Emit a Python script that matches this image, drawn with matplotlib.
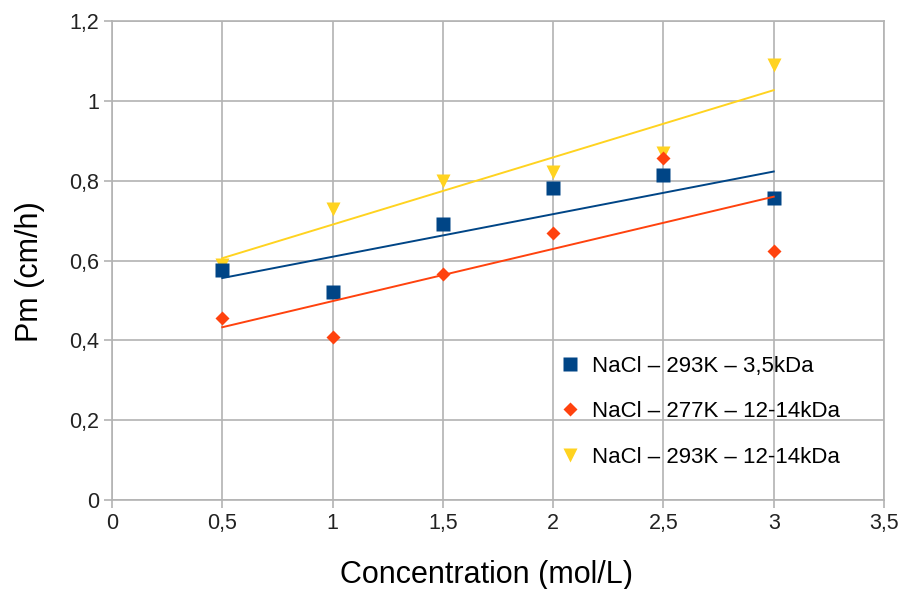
import numpy as np
import matplotlib
matplotlib.use("Agg")
import matplotlib.pyplot as plt
from matplotlib.ticker import FuncFormatter

plt.rcParams["font.family"] = ["Liberation Sans", "DejaVu Sans"]

conc = [0.5, 1.0, 1.5, 2.0, 2.5, 3.0]
pm_293_35 = [0.576, 0.521, 0.691, 0.781, 0.814, 0.756]
pm_277_1214 = [0.456, 0.408, 0.566, 0.669, 0.857, 0.624]
pm_293_1214 = [0.590, 0.729, 0.799, 0.822, 0.869, 1.091]

labels = ["NaCl – 293K – 3,5kDa", "NaCl – 277K – 12-14kDa", "NaCl – 293K – 12-14kDa"]
colors = ["#004586", "#ff420e", "#ffd320"]
markers = ["s", "D", "v"]
msizes = [9.5, 7, 10.5]
zorders = [5, 4, 3]

GRID = "#b3b3b3"

fig = plt.figure(figsize=(9.03, 5.89), dpi=100)
ax = fig.add_axes([0.124, 0.151, 0.855, 0.813])

x = np.array(conc)
series = [pm_293_35, pm_277_1214, pm_293_1214]
for ys, c, m, ms, lab, z in zip(series, colors, markers, msizes, labels, zorders):
    ax.plot(conc, ys, ls="none", marker=m, ms=ms, color=c, mec="none", label=lab, zorder=z)

# linear trend lines drawn on top of the markers
for ys, c in zip(series, colors):
    k, b = np.polyfit(x, ys, 1)
    xx = np.array([x.min(), x.max()])
    ax.plot(xx, k * xx + b, color=c, lw=1.4, zorder=6)

ax.set_xlim(0, 3.5)
ax.set_ylim(0, 1.2)
ax.set_xticks(np.arange(0, 3.51, 0.5))
ax.set_yticks(np.arange(0, 1.21, 0.2))
fmt = FuncFormatter(lambda v, p: f"{v:g}".replace(".", ","))
ax.xaxis.set_major_formatter(fmt)
ax.yaxis.set_major_formatter(fmt)
ax.grid(True, color=GRID, lw=1.2)
ax.set_axisbelow(True)
for s in ax.spines.values():
    s.set_color(GRID)
    s.set_linewidth(1.2)
ax.tick_params(colors=GRID, labelcolor="#222222", labelsize=15.5, length=6, width=1.2, pad=3)

ax.set_xlabel("Concentration (mol/L)", fontsize=22)
ax.set_ylabel("Pm (cm/h)", fontsize=22)
ax.xaxis.set_label_coords(0.4845, -0.125)
ax.yaxis.set_label_coords(-0.087, 0.477)

ax.legend(loc="lower left", bbox_to_anchor=(0.551, 0.026), frameon=False, fontsize=16,
          labelspacing=1.1, handletextpad=0.45, handlelength=1.1)

fig.savefig("out.png", dpi=100)
